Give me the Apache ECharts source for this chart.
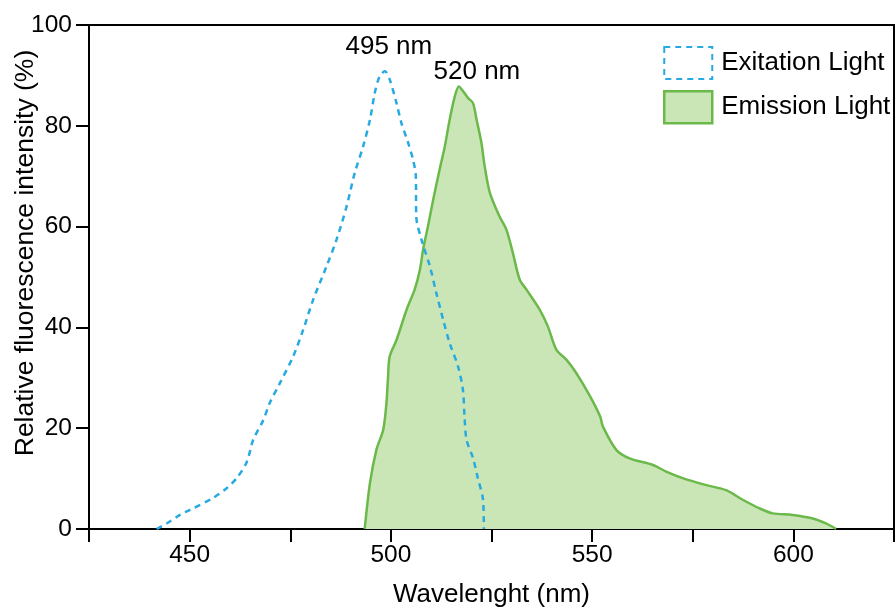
<!DOCTYPE html>
<html>
<head>
<meta charset="utf-8">
<script src="https://cdn.jsdelivr.net/npm/echarts@6/dist/echarts.min.js"></script>
<style>
  html, body { margin: 0; padding: 0; background: #fff; }
  #main { width: 896px; height: 610px; }
</style>
</head>
<body>
<div id="main"></div>
<script>
// excitation spectrum (dashed blue)
const exWavelength = [441.8, 444.3, 447.6, 450.1, 455.9, 459.2, 461.7, 464.2, 465.8, 468.3, 469.9, 472.4, 475.7, 478.2, 480.7, 484.0, 486.5, 489.0, 491.0, 493.1, 494.8, 496.0, 497.2, 498.5, 499.7, 501.4, 502.6, 504.3, 505.5, 506.2, 506.3, 507.6, 509.7, 511.3, 513.0, 514.6, 516.7, 517.9, 518.3, 518.8, 520.4, 521.6, 522.9, 523.1];
const exIntensity = [0, 1.1, 2.8, 3.8, 6.2, 8.1, 10.1, 13.3, 17.7, 21.6, 25.0, 28.9, 34.2, 39.5, 45.5, 52.1, 57.4, 64.0, 70.6, 75.9, 81.2, 86.5, 89.8, 90.8, 89.2, 84.5, 80.6, 76.6, 73.3, 70.0, 62.0, 57.4, 52.1, 46.8, 41.5, 36.9, 32.2, 27.6, 22.3, 17.7, 14.1, 10.1, 5.8, 0];

// emission spectrum (green filled)
const emWavelength = [493.5, 494.8, 496.4, 498.1, 498.9, 499.3, 499.7, 501.4, 503.9, 505.9, 507.2, 508.0, 509.2, 510.5, 512.1, 513.4, 514.6, 515.9, 516.9, 517.9, 519.2, 520.4, 521.3, 522.5, 523.3, 524.6, 527.0, 528.7, 530.3, 532.0, 533.7, 537.0, 539.0, 541.1, 543.6, 546.1, 549.5, 552.0, 552.7, 556.0, 559.3, 565.1, 568.4, 572.5, 578.4, 583.3, 587.4, 591.6, 594.9, 599.8, 604.8, 608.1, 610.6];
const emIntensity = [0, 9.1, 15.7, 19.7, 25.0, 30.2, 34.2, 37.5, 43.5, 47.5, 51.4, 55.4, 60.0, 65.3, 71.3, 75.9, 81.2, 85.9, 87.8, 86.9, 85.5, 84.5, 81.2, 76.6, 72.0, 66.7, 62.0, 59.4, 54.8, 49.5, 47.5, 43.5, 40.2, 35.6, 33.6, 30.9, 26.3, 22.3, 20.3, 15.7, 14.0, 12.7, 11.4, 10.1, 8.7, 7.7, 5.8, 4.1, 3.1, 2.8, 2.1, 1.1, 0];

const seriesNames = ['Exitation Light', 'Emission Light'];
const peakLabels = ['495 nm', '520 nm'];
const xLabelEvery = 50;

const font = 'Liberation Sans, Arial, sans-serif';
const blue = '#27aae1';
const green = '#6bb94a';
const greenFill = '#cbe6b6';

function zip(xs, ys) {
  return xs.map((x, i) => [x, ys[i]]);
}
function peakOf(xs, ys) {
  let k = 0;
  ys.forEach((v, i) => { if (v > ys[k]) k = i; });
  return [xs[k], ys[k]];
}

const chart = echarts.init(document.getElementById('main'));

const option = {
  animation: false,
  textStyle: { fontFamily: font },
  grid: {
    left: 89, right: 2, top: 25, bottom: 81,
    outerBoundsMode: 'none',
    containLabel: false,
    show: true, borderColor: '#000', borderWidth: 2
  },
  legend: {
    orient: 'vertical',
    left: 658, top: 41,
    itemWidth: 48, itemHeight: 32, itemGap: 10,
    textStyle: { fontSize: 26, color: '#000', fontFamily: font, padding: [0, 0, 0, 4] },
    data: [
      { name: seriesNames[0], icon: 'rect',
        itemStyle: { color: '#fff', borderColor: blue, borderWidth: 2, borderType: [6, 5] } },
      { name: seriesNames[1], icon: 'rect',
        itemStyle: { color: greenFill, borderColor: green, borderWidth: 2.5 } }
    ]
  },
  xAxis: {
    type: 'value',
    min: 425, max: 625, interval: 25,
    name: 'Wavelenght (nm)',
    nameLocation: 'middle', nameGap: 53,
    nameMoveOverlap: false,
    nameTextStyle: { fontSize: 26, color: '#000', fontFamily: font },
    axisLine: { lineStyle: { color: '#000', width: 2 } },
    axisTick: { length: 13, lineStyle: { color: '#000', width: 2 } },
    axisLabel: {
      fontSize: 24.5, color: '#000', margin: 14, fontFamily: font,
      formatter: v => (v % xLabelEvery === 0 ? String(v) : '')
    },
    splitLine: { show: false }
  },
  yAxis: {
    type: 'value',
    min: 0, max: 100, interval: 20,
    name: 'Relative fluorescence intensity (%)',
    nameLocation: 'middle', nameGap: 49.5,
    nameMoveOverlap: false,
    nameTextStyle: { fontSize: 26.5, color: '#000', fontFamily: font, padding: [0, 0, 0, 48] },
    axisLine: { show: true, lineStyle: { color: '#000', width: 2 } },
    axisTick: { show: true, length: 13, lineStyle: { color: '#000', width: 2 } },
    axisLabel: { fontSize: 24.5, color: '#000', margin: 17, fontFamily: font },
    splitLine: { show: false }
  },
  series: [
    {
      name: seriesNames[0],
      type: 'line',
      z: 3,
      smooth: 0.3,
      showSymbol: false,
      symbol: 'none',
      data: zip(exWavelength, exIntensity),
      lineStyle: { color: blue, width: 2.5, type: [6, 5] },
      itemStyle: { color: blue },
      markPoint: {
        symbol: 'circle', symbolSize: 1,
        itemStyle: { color: 'rgba(0,0,0,0)' },
        label: { show: true, position: 'inside', offset: [4, -25], color: '#000', fontSize: 26, fontFamily: font, formatter: peakLabels[0] },
        data: [{ coord: peakOf(exWavelength, exIntensity) }]
      }
    },
    {
      name: seriesNames[1],
      type: 'line',
      z: 2,
      smooth: 0.3,
      showSymbol: false,
      symbol: 'none',
      data: zip(emWavelength, emIntensity),
      lineStyle: { color: green, width: 2.5 },
      itemStyle: { color: green },
      areaStyle: { color: greenFill, opacity: 1 },
      markPoint: {
        symbol: 'circle', symbolSize: 1,
        itemStyle: { color: 'rgba(0,0,0,0)' },
        label: { show: true, position: 'inside', offset: [18, -15], color: '#000', fontSize: 26, fontFamily: font, formatter: peakLabels[1] },
        data: [{ coord: peakOf(emWavelength, emIntensity) }]
      }
    }
  ]
};

option && chart.setOption(option);
</script>
</body>
</html>
